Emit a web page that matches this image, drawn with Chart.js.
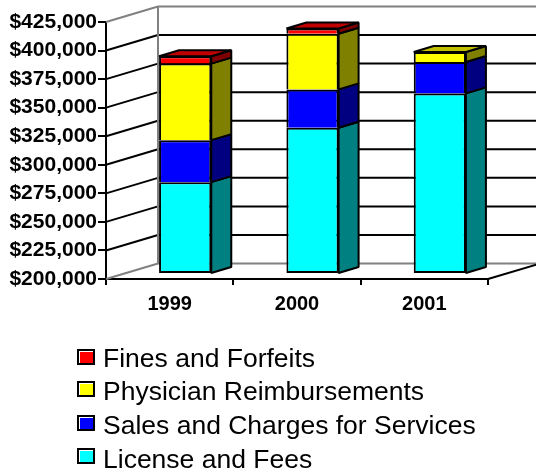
<!DOCTYPE html>
<html>
<head>
<meta charset="utf-8">
<style>
  html, body { margin: 0; padding: 0; background: #fff; overflow: hidden; }
  canvas { display: block; }
</style>
<script src="https://cdn.jsdelivr.net/npm/chart.js@4/dist/chart.umd.min.js"></script>
</head>
<body>
<canvas id="revenueChart" width="536" height="470"></canvas>
<script>
const years = ['1999', '2000', '2001'];
const licenseFees = [280400, 328100, 358100];
const salesCharges = [36800, 33500, 27500];
const physicianReimb = [67000, 48700, 8800];
const finesForfeits = [6400, 4700, null];

const WALL_DX = 52, WALL_DY = -15.5;   // back wall offset
const BAR_DX = 15.5, BAR_DY = -5;      // bars stand a bit into the floor
const SIDE_DX = 20, SIDE_DY = -6;      // bar depth

// side and top shades for each series
const sideColors = ['#008080', '#000080', '#808000', '#800000'];
const topColors = ['#00c0c0', '#0000c0', '#c0c000', '#c00000'];

function makeSet(label, data, color, first) {
  return {
    label: label,
    data: data,
    backgroundColor: color,
    borderColor: '#000',
    borderWidth: 2,
    borderSkipped: first ? false : 'bottom',
    base: first ? 200000 : undefined,
    clip: false
  };
}

function line(ctx, x1, y1, x2, y2, color, width) {
  ctx.beginPath();
  ctx.moveTo(x1, y1);
  ctx.lineTo(x2, y2);
  ctx.strokeStyle = color;
  ctx.lineWidth = width;
  ctx.stroke();
}

function poly(ctx, pts, fill) {
  ctx.beginPath();
  pts.forEach((p, i) => i ? ctx.lineTo(p[0], p[1]) : ctx.moveTo(p[0], p[1]));
  ctx.closePath();
  ctx.fillStyle = fill;
  ctx.fill();
  ctx.strokeStyle = '#000';
  ctx.lineWidth = 2;
  ctx.lineJoin = 'bevel';
  ctx.stroke();
}

// walls and floor behind the bars, drawn from the value scale
const walls = {
  id: 'walls',
  beforeDatasetsDraw(chart) {
    const ctx = chart.ctx, y = chart.scales.y, area = chart.chartArea;
    const left = area.left, backX = left + WALL_DX;
    ctx.save();
    y.ticks.forEach((t, i) => {
      const py = y.getPixelForValue(t.value);
      const edge = i === 0 || i === y.ticks.length - 1;
      const color = edge ? '#808080' : '#000';
      line(ctx, left, py, backX, py + WALL_DY, color, 2);
      line(ctx, backX, py + WALL_DY, chart.width, py + WALL_DY, color, 2);
    });
    const top = y.getPixelForValue(y.max), bottom = y.getPixelForValue(y.min);
    line(ctx, backX, top + WALL_DY, backX, bottom + WALL_DY, '#808080', 2);
    line(ctx, area.right, bottom, area.right + WALL_DX, bottom + WALL_DY, '#000', 2);
    ctx.restore();

    // bars get drawn by the library inside this shifted context
    ctx.save();
    ctx.translate(BAR_DX, BAR_DY);
  },
  afterDatasetsDraw(chart) {
    const ctx = chart.ctx;
    chart.data.labels.forEach((yr, idx) => {
      let topSet = -1;
      chart.data.datasets.forEach((ds, d) => {
        if (ds.data[idx] === null) return;
        const bar = chart.getDatasetMeta(d).data[idx];
        const r = bar.x + bar.width / 2;
        poly(ctx, [[r, bar.y], [r + SIDE_DX, bar.y + SIDE_DY],
          [r + SIDE_DX, bar.base + SIDE_DY], [r, bar.base]], sideColors[d]);
        topSet = d;
      });
      const bar = chart.getDatasetMeta(topSet).data[idx];
      const l = bar.x - bar.width / 2, r = bar.x + bar.width / 2;
      poly(ctx, [[l, bar.y], [l + SIDE_DX, bar.y + SIDE_DY],
        [r + SIDE_DX, bar.y + SIDE_DY], [r, bar.y]], topColors[topSet]);
    });
    ctx.restore();
  }
};

// legend stacked under the plot, top series first
const sideLegend = {
  id: 'sideLegend',
  afterDraw(chart) {
    const ctx = chart.ctx;
    const boxTops = [349, 381, 415, 448];
    const baselines = [367, 400, 434, 468];
    const sets = chart.data.datasets.slice().reverse();
    ctx.save();
    ctx.font = '26.5px "Liberation Sans", Arial, sans-serif';
    ctx.textBaseline = 'alphabetic';
    sets.forEach((ds, i) => {
      const y = boxTops[i];
      ctx.fillStyle = '#000';
      ctx.fillRect(77, y, 18, 16);
      ctx.fillStyle = '#fff';
      ctx.fillRect(79, y + 2, 14, 12);
      ctx.fillStyle = ds.backgroundColor;
      ctx.fillRect(80, y + 3, 13, 11);
      ctx.fillStyle = '#000';
      ctx.fillText(ds.label, 103, baselines[i]);
    });
    ctx.restore();
  }
};

new Chart(document.getElementById('revenueChart'), {
  type: 'bar',
  data: {
    labels: years,
    datasets: [
      makeSet('License and Fees', licenseFees, '#00ffff', true),
      makeSet('Sales and Charges for Services', salesCharges, '#0000ff'),
      makeSet('Physician Reimbursements', physicianReimb, '#ffff00'),
      makeSet('Fines and Forfeits', finesForfeits, '#ff0000')
    ]
  },
  options: {
    responsive: false,
    animation: false,
    devicePixelRatio: 1,
    layout: { padding: { top: 22, right: 48, bottom: 151, left: 0 } },
    datasets: { bar: { barPercentage: 0.41, categoryPercentage: 1 } },
    plugins: { legend: { display: false }, tooltip: { enabled: false } },
    scales: {
      x: {
        stacked: true,
        afterFit(scale) { scale.height = 40; },
        border: { color: '#000', width: 2 },
        grid: { drawOnChartArea: false, color: '#000', lineWidth: 2, tickLength: 6, offset: true },
        ticks: {
          color: '#000',
          padding: 7,
          maxRotation: 0,
          font: { family: '"Liberation Sans", Arial, sans-serif', size: 20, weight: 'bold' }
        }
      },
      y: {
        stacked: true,
        min: 200000,
        max: 425000,
        afterFit(scale) { scale.width = 106; },
        border: { color: '#000', width: 2 },
        grid: { drawOnChartArea: false, color: '#000', lineWidth: 2, tickLength: 8 },
        ticks: {
          stepSize: 25000,
          color: '#000',
          padding: 1,
          autoSkip: false,
          font: { family: '"Liberation Sans", Arial, sans-serif', size: 21, weight: 'bold' },
          callback: v => '$' + v.toLocaleString('en-US')
        }
      }
    }
  },
  plugins: [walls, sideLegend]
});
</script>
</body>
</html>
